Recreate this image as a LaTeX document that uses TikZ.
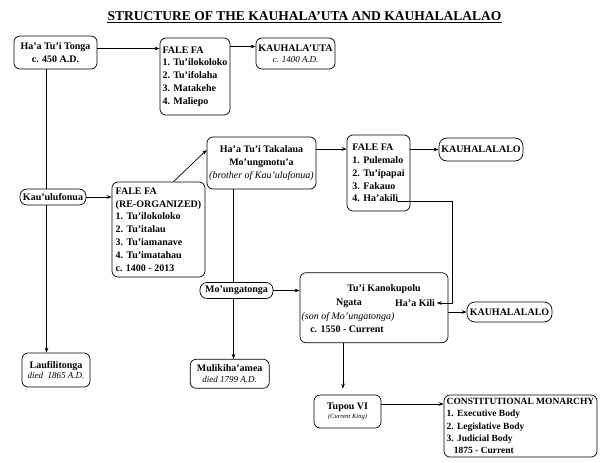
\documentclass[tikz,border=0pt]{standalone}
\usepackage{fontspec}
\setmainfont{Liberation Serif}
\usetikzlibrary{arrows.meta}
\newcommand{\subnote}[2][9]{{\mdseries\itshape\fontsize{#1}{12.8}\selectfont #2}}

\begin{document}
\begin{tikzpicture}[x=1pt, y=-1pt, line width=0.7pt,
            box/.style={draw, rounded corners=6pt, fill=white, align=center, inner sep=1.5pt,
                font=\bfseries\fontsize{10}{12.8}\selectfont},
            listbox/.style={box, align=left},
            pill/.style={box, rounded corners=7pt},
            txt/.style={inner sep=1.5pt, font=\bfseries\fontsize{10}{12.8}\selectfont},
            arr/.style={-{Stealth[length=5pt, width=3.6pt]}}]
            \useasboundingbox (0, 0) rectangle (600, 463);
            \node[anchor=base, inner sep=0, font=\bfseries\fontsize{13.5}{16}\selectfont] (title) at (304.5, 20.5) {STRUCTURE OF THE KAUHALA’UTA AND KAUHALALALAO};
            \draw[line width=0.8pt] ([yshift=-1.8pt]title.base west) -- ([yshift=-1.8pt]title.base east);
            \node[box, minimum width=83pt, minimum height=33pt] (tonga) at (55.5, 52.5) {Ha’a Tu’i Tonga\\c. 450 A.D.};
            \node[listbox, minimum width=70pt, minimum height=77pt] (fale1) at (195, 76.5) {FALE FA\\1. Tu'ilokoloko\\2. Tu’ifolaha\\3. Matakehe\\4. Maliepo};
            \node[box, minimum width=79pt, minimum height=31pt] (kauhuta) at (295.5, 53.5) {KAUHALA’UTA\\[-2pt]\subnote{c. 1400 A.D.}};
            \node[box, minimum width=68pt, minimum height=34pt] (laufi) at (56, 370) {Laufilitonga\\[-2pt]\subnote{died\ \ 1865 A.D.}};
            \node[listbox, minimum width=93pt, minimum height=95pt] (fale2) at (158.5, 229.5) {FALE FA\\(RE-ORGANIZED)\\1. Tu'ilokoloko\\2. Tu'italau\\3. Tu’iamanave\\4. Tu’imatahau\\c. 1400 - 2013};
            \node[box, minimum width=109pt, minimum height=52pt] (taka) at (261.5, 163) {Ha’a Tu’i Takalaua\\Mo'ungmotu'a\\\subnote[10]{(brother of Kau'ulufonua)}};
            \node[listbox, minimum width=63pt, minimum height=76pt] (fale3) at (378.5, 173) {FALE FA\\1. Pulemalo\\2. Tu’ipapai\\3. Fakauo\\4. Ha’akili};
            \coordinate (hakili) at (397, 201);
            \node[pill, rounded corners=8pt, minimum width=84pt, minimum height=23pt] (kauh1) at (481, 149.5) {KAUHALALALO};
            \node[box, minimum width=79pt, minimum height=29pt] (muli) at (229.7, 373.8) {Mulikiha’amea\\[-2pt]\subnote{died 1799 A.D.}};
            \node[box, minimum width=148pt, minimum height=70pt] (kanoku) at (374, 307.7) {};
            \node[txt] (kanotitle) at (384, 289) {Tu'i Kanokupolu};
            \node[txt] (ngata) at (349, 303) {Ngata};
            \node[txt] (haakili) at (415, 303) {Ha’a Kili};
            \node[txt] (sonof) at (348, 317) {\subnote[10]{(son of Mo’ungatonga)}};
            \node[txt] (kanodate) at (347, 329) {c. 1550 - Current};
            \node[pill, rounded corners=8pt, minimum width=85pt, minimum height=20pt] (kauh2) at (509.5, 312) {KAUHALALALO};
            \node[box, minimum width=67pt, minimum height=33pt] (tupou) at (347.5, 411.5) {Tupou VI\\[-4pt]\subnote[6.5]{(Current King)}};
            \node[listbox, minimum width=153pt, minimum height=62pt, font=\bfseries\fontsize{9.5}{12.3}\selectfont] (const) at (520.5, 426) {CONSTITUTIONAL MONARCHY\\1. Executive Body\\2. Legislative Body\\3. Judicial Body\\\ \ \ 1875 - Current};
            \draw[arr] ([yshift=4pt]tonga.east) -- ([yshift=4pt]tonga.east -| fale1.west);
            \draw[arr] ([yshift=7pt]kauhuta.west -| fale1.east) -- ([yshift=7pt]kauhuta.west);
            \draw[arr] ([xshift=-9pt]tonga.south) -- ([xshift=-9pt]tonga.south |- laufi.north);
            \node[pill, minimum width=66pt, minimum height=16pt] (kau) at (53, 197) {Kau'ulufonua};
            \draw[arr] (kau.east) -- (kau.east -| fale2.west);
            \draw[arr] ([xshift=15pt]fale2.north) -- ([yshift=13pt]taka.west);
            \draw[arr] ([yshift=14pt]taka.east) -- ([yshift=14pt]taka.east -| fale3.west);
            \draw[arr] (kauh1.west -| fale3.east) -- (kauh1.west);
            \draw[arr] ([xshift=-28pt]taka.south) -- ([xshift=-28pt]taka.south |- muli.north);
            \node[pill, minimum width=73pt, minimum height=16pt] (muto) at (236.5, 290.5) {Mo’ungatonga};
            \draw[arr] (muto.east) -- (muto.east -| kanoku.west);
            \draw[arr] (hakili) -| ([xshift=3.5pt]kanoku.east |- haakili.east) -- (haakili.east);
            \draw[arr] (kauh2.west -| kanoku.east) -- (kauh2.west);
            \draw[arr, shorten >=6pt] ([xshift=-31pt]kanoku.south) -- ([xshift=-31pt]kanoku.south |- tupou.north);
            \draw[arr] ([yshift=7.5pt]tupou.east) -- ([yshift=7.5pt]tupou.east -| const.west);
        \end{tikzpicture}
\end{document}
